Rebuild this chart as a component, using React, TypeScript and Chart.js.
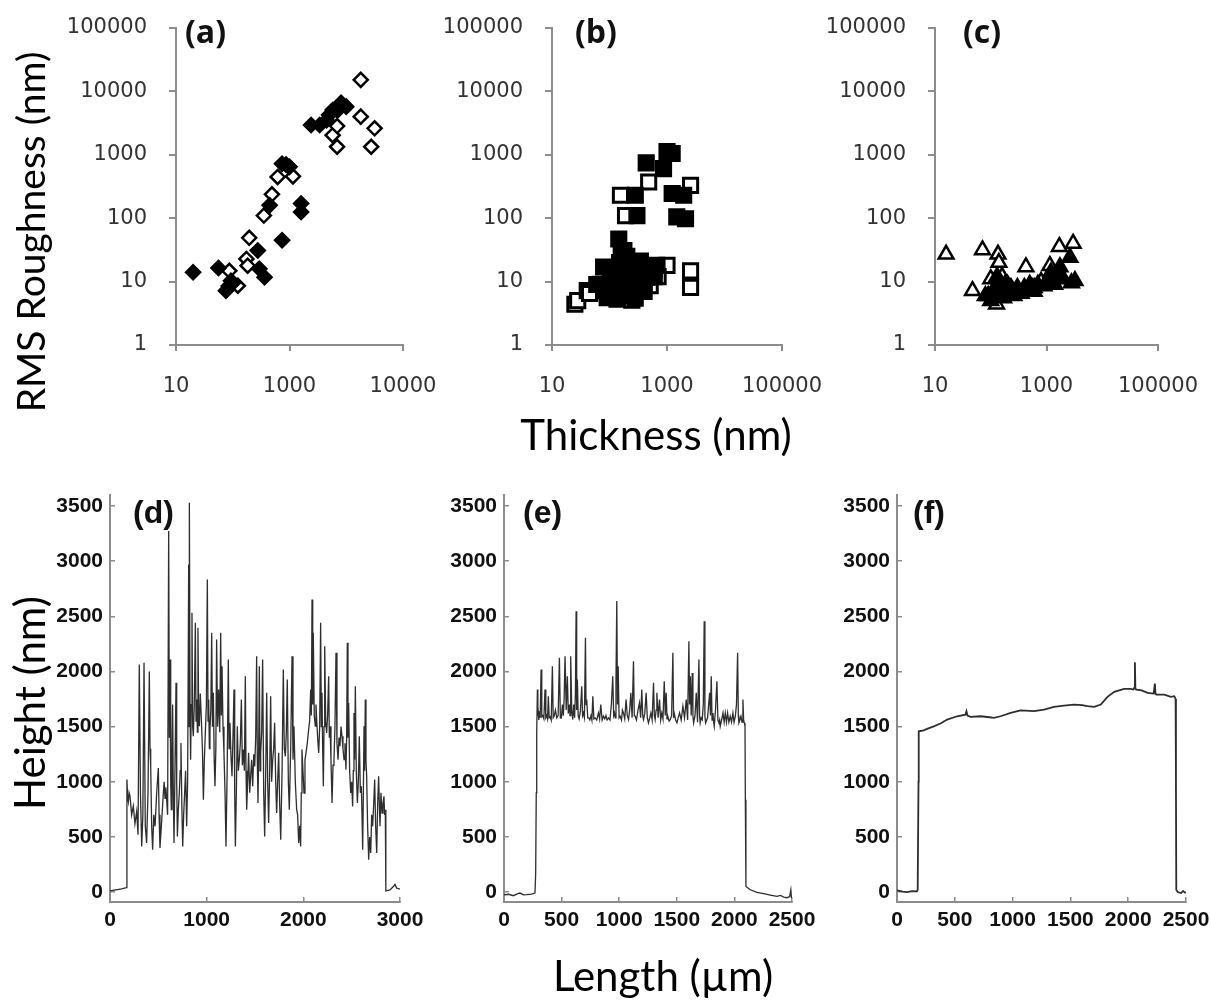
import React, { useEffect, useRef } from 'react';
import { Chart, registerables } from 'chart.js';
Chart.register(...registerables);

// ---------- DATA: top panels (thickness nm, RMS roughness nm) ----------
const A_FILLED: [number, number][] = [
  [20, 14], [56, 16.4], [76, 7.2], [93, 10.3], [85, 8.5], [100, 9.5], [276, 31], [294, 16], [363, 11.7],
  [740, 45], [447, 160], [740, 725], [1000, 645], [870, 700], [1600, 170], [1600, 125], [2400, 2950],
  [3400, 2950], [5000, 4260], [5800, 5100], [8100, 6100], [10000, 5750], [7000, 5000], [4500, 3500],
];
const A_OPEN: [number, number][] = [
  [87, 14.8], [123, 8.6], [174, 22.8], [183, 17.8], [195, 49], [353, 110], [490, 238], [618, 447],
  [1150, 457], [5760, 2040], [6900, 1340], [6900, 2840], [8100, 6600], [18000, 15200], [18000, 4000],
  [27500, 1340], [31600, 2620],
];
const B_FILLED: [number, number][] = [
  [435, 745], [281, 230], [300, 110], [1000, 1120], [1230, 1050], [870, 605], [1230, 245], [1950, 230],
  [1480, 105], [2100, 98], [145, 47], [79, 17], [103, 11.7], [177, 13], [230, 17], [345, 21], [450, 11.7],
  [670, 18], [79, 7.2], [91, 5.6], [135, 5.3], [165, 9.1], [230, 8.1], [120, 14], [150, 20], [200, 25],
  [260, 12], [300, 9], [380, 15], [520, 14], [600, 12], [110, 6.5], [60, 9], [190, 6], [280, 5.5],
  [400, 7], [160, 30], [250, 10], [320, 18],
];
const B_OPEN: [number, number][] = [
  [25, 4.4], [28, 5], [41, 7.2], [45, 6.5], [69, 9.1], [155, 230], [190, 110], [480, 372], [2570, 330],
  [2570, 14.8], [2570, 8.1], [1000, 18], [510, 8.6], [245, 5.1], [178, 31], [200, 20], [130, 12],
  [300, 15], [700, 12], [400, 9], [150, 7], [600, 16],
];
const C_OPEN: [number, number][] = [
  [15.8, 27], [71, 31.6], [135, 27], [427, 17], [1700, 35.6], [3000, 40], [1150, 17.8], [47, 7.2],
  [127, 4.4], [110, 7], [160, 12], [200, 9], [100, 11], [90, 6], [300, 8], [600, 8], [800, 10],
  [1300, 12], [140, 20], [250, 7],
];
const C_FILLED: [number, number][] = [
  [1740, 17], [2630, 24], [3240, 10.3], [1320, 9.1], [1510, 13], [1000, 9], [80, 6], [100, 5], [120, 8],
  [140, 10], [160, 6], [180, 9], [200, 7], [230, 8], [260, 6], [300, 7], [350, 6.5], [400, 8], [450, 7],
  [500, 9], [550, 8], [600, 7], [700, 9], [900, 8.5], [1100, 11], [1200, 14], [1400, 9], [2000, 11],
  [2800, 9.5], [130, 12], [110, 6.5], [170, 5.5],
];

const TOP_Y_TICKS = [1, 10, 100, 1000, 10000, 100000];
const TOP_X_TICKS = [10, 1000, 100000];
const A_X_LABELS = ['10', '1000', '10000'];
const BC_X_LABELS = ['10', '1000', '100000'];

// ---------- DATA: bottom panels (length um, height nm) ----------
const D_PROFILE: [number, number][] = [
  [0, 10], [60, 20], [120, 30], [170, 40], [175, 1020], [182, 870], [190, 820], [198, 900], [207, 870],
  [224, 700], [241, 780], [258, 620], [276, 730], [290, 520], [303, 2063], [315, 900], [328, 414],
  [340, 700], [352, 2078], [365, 600], [379, 445], [393, 900], [407, 2000], [414, 1300], [421, 1140],
  [431, 600], [441, 384], [453, 700], [466, 596], [483, 900], [500, 1125], [508, 700], [517, 400],
  [535, 650], [552, 900], [560, 1000], [569, 850], [578, 950], [586, 840], [596, 700], [607, 3273],
  [614, 1400], [621, 2108], [628, 1000], [634, 747], [641, 1250], [648, 1700], [655, 900], [662, 445],
  [672, 1100], [683, 1897], [690, 1000], [697, 505], [707, 750], [717, 898], [726, 1100], [734, 1352],
  [743, 800], [752, 414], [762, 700], [772, 898], [782, 1100], [793, 596], [803, 1000], [814, 2970],
  [818, 1500], [821, 3530], [828, 1650], [834, 1200], [841, 1700], [848, 2532], [855, 1500], [862, 1413],
  [872, 1700], [883, 2441], [890, 1550], [897, 1745], [904, 1450], [910, 2396], [917, 1600], [924, 1504],
  [934, 1800], [945, 1564], [956, 1300], [966, 838], [976, 1200], [986, 1443], [997, 1700], [1007, 2834],
  [1014, 1550], [1021, 1745], [1028, 1300], [1034, 1474], [1043, 1650], [1052, 2350], [1060, 1500],
  [1069, 1806], [1078, 1200], [1086, 959], [1095, 1300], [1103, 2290], [1113, 1500], [1124, 1836],
  [1135, 1450], [1145, 2350], [1152, 1600], [1159, 2048], [1169, 1500], [1179, 1262], [1190, 900],
  [1200, 414], [1212, 1100], [1224, 2108], [1232, 1300], [1241, 1534], [1251, 1250], [1262, 1050],
  [1272, 1400], [1283, 1836], [1290, 900], [1297, 414], [1307, 900], [1317, 1504], [1328, 1100],
  [1338, 1200], [1348, 1350], [1359, 1745], [1369, 1150], [1379, 1292], [1390, 1100], [1400, 1957],
  [1407, 1100], [1414, 747], [1424, 1000], [1434, 1262], [1445, 900], [1455, 1050], [1465, 1200],
  [1476, 959], [1487, 1250], [1497, 1140], [1507, 1400], [1517, 2139], [1524, 1200], [1531, 808],
  [1538, 1300], [1545, 2048], [1552, 1100], [1559, 1262], [1569, 1450], [1579, 2108], [1590, 900],
  [1600, 505], [1611, 1100], [1621, 1806], [1631, 1000], [1641, 626], [1652, 1100], [1662, 1776],
  [1672, 1000], [1683, 1200], [1693, 1300], [1703, 1534], [1714, 1000], [1724, 717], [1734, 1000],
  [1745, 1262], [1755, 800], [1766, 475], [1780, 1100], [1793, 2017], [1803, 1300], [1814, 1231],
  [1824, 1450], [1834, 1927], [1845, 1000], [1855, 747], [1869, 1300], [1883, 2139], [1893, 1200],
  [1903, 1504], [1917, 1000], [1931, 747], [1941, 700], [1952, 445], [1962, 600], [1972, 414], [1979, 900],
  [1986, 1292], [1996, 1100], [2007, 898], [2017, 1200], [2028, 1262], [2041, 1350], [2055, 1474],
  [2065, 1550], [2076, 1836], [2083, 1600], [2090, 2653], [2097, 1700], [2103, 2350], [2113, 1600],
  [2124, 1504], [2131, 1700], [2138, 1564], [2148, 1400], [2159, 1262], [2169, 1500], [2179, 2441],
  [2186, 1500], [2193, 1806], [2200, 1300], [2207, 959], [2214, 1500], [2221, 2229], [2231, 1550],
  [2241, 1443], [2251, 1600], [2262, 1957], [2269, 1400], [2276, 1504], [2286, 1200], [2297, 808],
  [2307, 1150], [2317, 1200], [2327, 1500], [2338, 2169], [2348, 1350], [2359, 1200], [2369, 1400],
  [2379, 1322], [2390, 1500], [2400, 1413], [2410, 1300], [2421, 1200], [2431, 1350], [2441, 1110],
  [2448, 1400], [2455, 2260], [2462, 1400], [2469, 1715], [2479, 1100], [2490, 898], [2500, 1000],
  [2510, 777], [2517, 1100], [2524, 1624], [2531, 1200], [2538, 1866], [2548, 1100], [2559, 808],
  [2569, 1000], [2579, 1413], [2590, 900], [2600, 959], [2607, 700], [2614, 384], [2621, 900], [2628, 1504],
  [2634, 1100], [2641, 1745], [2648, 1200], [2655, 1050], [2665, 600], [2676, 293], [2686, 500],
  [2697, 354], [2707, 700], [2717, 596], [2728, 800], [2738, 1020], [2748, 600], [2759, 354], [2769, 800],
  [2779, 1050], [2786, 800], [2793, 596], [2803, 900], [2814, 717], [2824, 800], [2834, 868], [2841, 700],
  [2848, 747], [2852, 30], [2855, 10], [2897, 20], [2931, 50], [2948, 70], [2966, 36], [3000, 27],
];
const E_PROFILE: [number, number][] = [
  [0, -20], [9, -24], [40, -20], [81, -33], [120, -15], [139, -9], [170, -25], [197, -24], [240, -18],
  [269, -9], [275, 172], [280, 900], [284, 1443], [290, 1836], [294, 1600], [298, 1624], [302, 1560],
  [307, 1640], [314, 1580], [322, 2018], [328, 1590], [336, 1600], [346, 1570], [356, 1836], [363, 1580],
  [371, 1600], [378, 1570], [385, 1776], [392, 1580], [400, 1590], [410, 1560], [420, 2048], [427, 1580],
  [435, 1594], [446, 1650], [458, 1579], [470, 1600], [481, 2124], [489, 1580], [498, 1579], [507, 1700],
  [515, 1600], [522, 1750], [530, 2139], [540, 1650], [550, 1957], [558, 1620], [568, 1700], [573, 1600],
  [579, 2139], [588, 1650], [597, 1564], [605, 1700], [613, 1580], [620, 1800], [626, 2547], [631, 1650],
  [637, 1927], [644, 1600], [652, 1570], [663, 1640], [675, 1866], [682, 1600], [689, 1624], [698, 1580],
  [707, 2305], [712, 1700], [718, 1745], [727, 1580], [736, 1579], [745, 1560], [755, 1600], [763, 1560],
  [771, 1776], [780, 1570], [791, 1579], [805, 1560], [820, 1624], [830, 1570], [840, 1700], [852, 1560],
  [863, 1594], [875, 1570], [885, 1600], [895, 1560], [907, 1579], [920, 1560], [932, 1700], [944, 1957],
  [952, 1600], [959, 1624], [966, 1580], [972, 1900], [979, 2638], [985, 1700], [991, 2048], [999, 1580],
  [1008, 1594], [1020, 1560], [1028, 1650], [1037, 1624], [1048, 1570], [1060, 1745], [1070, 1600],
  [1081, 1564], [1091, 1650], [1101, 1806], [1112, 1580], [1124, 2093], [1131, 1600], [1139, 1594],
  [1150, 1560], [1163, 1650], [1176, 1715], [1186, 1580], [1196, 1836], [1204, 1600], [1211, 1564],
  [1222, 1620], [1234, 1806], [1244, 1580], [1254, 1534], [1265, 1580], [1275, 1624], [1286, 1560],
  [1298, 1897], [1305, 1600], [1312, 1564], [1320, 1650], [1327, 1806], [1338, 1580], [1350, 1745],
  [1360, 1560], [1370, 1624], [1380, 1570], [1391, 1912], [1400, 1600], [1408, 1806], [1415, 1570],
  [1422, 1594], [1433, 1550], [1443, 1564], [1455, 1600], [1466, 2169], [1472, 1580], [1477, 1624],
  [1490, 1560], [1501, 1534], [1512, 1580], [1524, 1624], [1538, 1560], [1553, 1685], [1567, 1580],
  [1582, 1745], [1594, 1560], [1605, 2275], [1611, 1700], [1617, 1957], [1625, 1600], [1634, 1987],
  [1640, 1600], [1646, 1534], [1658, 1600], [1669, 1806], [1680, 1540], [1692, 2108], [1698, 1600],
  [1703, 1534], [1712, 1580], [1721, 1564], [1730, 1700], [1738, 2456], [1744, 1600], [1750, 1534],
  [1767, 1580], [1785, 1806], [1792, 1600], [1799, 1957], [1806, 1560], [1814, 1624], [1820, 1540],
  [1825, 1503], [1836, 1650], [1848, 1912], [1857, 1560], [1866, 1534], [1872, 1560], [1877, 1503],
  [1889, 1560], [1901, 1624], [1911, 1540], [1921, 1624], [1931, 1540], [1941, 1624], [1952, 1540],
  [1964, 1594], [1975, 1540], [1987, 1624], [1997, 1540], [2008, 1594], [2018, 1700], [2028, 2169],
  [2034, 1600], [2039, 1534], [2048, 1560], [2057, 1594], [2066, 1540], [2074, 1745], [2080, 1560],
  [2086, 1534], [2092, 1503], [2095, 838], [2100, 51], [2138, 21], [2196, -3], [2254, -15], [2312, -27],
  [2370, -39], [2400, -30], [2428, -45], [2457, -51], [2480, -40], [2490, 20], [2495, -50], [2500, -54],
];
const F_PROFILE: [number, number][] = [
  [0, 15], [50, 5], [87, 0], [130, 8], [173, 6], [179, 20], [186, 1000], [188, 1458], [231, 1467],
  [260, 1480], [318, 1503], [380, 1530], [434, 1564], [520, 1594], [592, 1609], [601, 1640], [610, 1600],
  [636, 1588], [723, 1594], [800, 1585], [838, 1579], [896, 1594], [983, 1624], [1069, 1648], [1185, 1640],
  [1272, 1655], [1358, 1679], [1445, 1691], [1532, 1700], [1600, 1695], [1647, 1685], [1705, 1679],
  [1763, 1700], [1821, 1770], [1879, 1815], [1965, 1842], [2023, 1842], [2046, 1836], [2052, 1850],
  [2058, 2084], [2062, 1850], [2069, 1836], [2110, 1830], [2168, 1806], [2220, 1800], [2231, 1891],
  [2236, 1800], [2243, 1791], [2312, 1791], [2370, 1770], [2399, 1776], [2410, 1751], [2413, 1000],
  [2416, 21], [2428, 0], [2457, -9], [2475, 10], [2490, -5], [2500, -3],
];

const BOTTOM_Y_TICKS = [0, 500, 1000, 1500, 2000, 2500, 3000, 3500];
const D_X_TICKS = [0, 1000, 2000, 3000];
const EF_X_TICKS = [0, 500, 1000, 1500, 2000, 2500];

// ---------- styling ----------
const AXIS_GRAY = '#8c8c8c';
const TOP_TICK_FONT = { family: "'DejaVu Sans', sans-serif", size: 21 };
const BOTTOM_TICK_FONT = { family: "'Liberation Sans Narrow', 'Liberation Sans', Arial, sans-serif", size: 21, weight: 'bold' as const };

type Geom = { left: number; top: number; width: number; height: number; W: number; R: number; T: number; H: number };

const toPts = (arr: [number, number][]) => arr.map(([x, y]) => ({ x, y }));

function markerSet(data: [number, number][], style: string, filled: boolean, radius: number, bw: number) {
  return {
    data: toPts(data),
    pointStyle: style,
    pointRadius: radius,
    pointBorderWidth: bw,
    pointBackgroundColor: filled ? '#000' : '#fff',
    pointBorderColor: '#000',
    borderColor: '#000',
    backgroundColor: filled ? '#000' : '#fff',
    showLine: false,
  };
}

function topConfig(datasets: any[], xLabels: string[], g: Geom) {
  return {
    type: 'scatter',
    data: { datasets },
    options: {
      responsive: false,
      animation: false,
      devicePixelRatio: 1,
      events: [],
      layout: { padding: { left: 0, right: g.R, top: g.T, bottom: 0 } },
      plugins: { legend: { display: false }, tooltip: { enabled: false } },
      scales: {
        x: {
          type: 'logarithmic',
          min: 10,
          max: 100000,
          afterBuildTicks: (s: any) => { s.ticks = TOP_X_TICKS.map((v) => ({ value: v })); },
          afterFit: (s: any) => { s.height = g.H; s.paddingLeft = 0; s.paddingRight = 0; },
          ticks: { callback: (_v: any, i: number) => xLabels[i], font: TOP_TICK_FONT, color: '#333', padding: 23, maxRotation: 0, autoSkip: false },
          grid: { display: true, drawOnChartArea: false, drawTicks: true, tickLength: 6, color: AXIS_GRAY, lineWidth: 2 },
          border: { display: true, color: AXIS_GRAY, width: 2 },
        },
        y: {
          type: 'logarithmic',
          min: 1,
          max: 100000,
          afterBuildTicks: (s: any) => { s.ticks = TOP_Y_TICKS.map((v) => ({ value: v })); },
          afterFit: (s: any) => { s.width = g.W; s.paddingTop = 0; s.paddingBottom = 0; },
          ticks: { callback: (v: any) => String(v), font: TOP_TICK_FONT, color: '#333', padding: 22, autoSkip: false },
          grid: { display: true, drawOnChartArea: false, drawTicks: true, tickLength: 7, color: AXIS_GRAY, lineWidth: 2 },
          border: { display: true, color: AXIS_GRAY, width: 2 },
        },
      },
    },
  };
}

function bottomConfig(profile: [number, number][], xMax: number, xTicks: number[], lineWidth: number, g: Geom) {
  return {
    type: 'scatter',
    data: {
      datasets: [{
        data: toPts(profile),
        showLine: true,
        borderColor: '#2e2e2e',
        borderWidth: lineWidth,
        pointRadius: 0,
        fill: false,
        tension: 0,
      }],
    },
    options: {
      responsive: false,
      animation: false,
      devicePixelRatio: 1,
      events: [],
      layout: { padding: { left: 0, right: g.R, top: g.T, bottom: 0 } },
      plugins: { legend: { display: false }, tooltip: { enabled: false } },
      scales: {
        x: {
          type: 'linear',
          min: 0,
          max: xMax,
          afterBuildTicks: (s: any) => { s.ticks = xTicks.map((v) => ({ value: v })); },
          afterFit: (s: any) => { s.height = g.H; s.paddingLeft = 0; s.paddingRight = 0; },
          ticks: { callback: (v: any) => String(v), font: BOTTOM_TICK_FONT, color: '#111', padding: 11, maxRotation: 0, autoSkip: false },
          grid: { display: true, drawOnChartArea: false, drawTicks: true, tickLength: -5, color: AXIS_GRAY, lineWidth: 1.5 },
          border: { display: true, color: AXIS_GRAY, width: 2 },
        },
        y: {
          type: 'linear',
          min: -90,
          max: 3600,
          afterBuildTicks: (s: any) => { s.ticks = BOTTOM_Y_TICKS.map((v) => ({ value: v })); },
          afterFit: (s: any) => { s.width = g.W; s.paddingTop = 0; s.paddingBottom = 0; },
          ticks: { callback: (v: any) => String(v), font: BOTTOM_TICK_FONT, color: '#111', padding: 12, autoSkip: false },
          grid: { display: true, drawOnChartArea: false, drawTicks: true, tickLength: -5, color: AXIS_GRAY, lineWidth: 1.5 },
          border: { display: true, color: AXIS_GRAY, width: 2 },
        },
      },
    },
  };
}

function ChartBox({ g, make }: { g: Geom; make: () => any }) {
  const ref = useRef<HTMLCanvasElement | null>(null);
  useEffect(() => {
    const chart = new Chart(ref.current as HTMLCanvasElement, make());
    return () => chart.destroy();
  }, []);
  return (
    <div style={{ position: 'absolute', left: g.left, top: g.top, width: g.width, height: g.height }}>
      <canvas ref={ref} width={g.width} height={g.height} style={{ display: 'block' }} />
    </div>
  );
}

const GA: Geom = { left: 40, top: 0, width: 440, height: 410, W: 136, R: 77, T: 28, H: 65 };
const GB: Geom = { left: 420, top: 0, width: 460, height: 410, W: 132, R: 98, T: 28, H: 65 };
const GC: Geom = { left: 815, top: 0, width: 396, height: 410, W: 120, R: 53, T: 28, H: 65 };
const GD: Geom = { left: 40, top: 470, width: 420, height: 480, W: 70, R: 60, T: 25, H: 48 };
const GE: Geom = { left: 430, top: 470, width: 420, height: 480, W: 74, R: 58, T: 25, H: 48 };
const GF: Geom = { left: 820, top: 470, width: 391, height: 480, W: 77, R: 25, T: 25, H: 48 };

const topLabel = (text: string, left: number, top: number) => (
  <div style={{ position: 'absolute', left, top, fontFamily: "'Open Sans', sans-serif", fontWeight: 700, fontSize: 32, lineHeight: '36px', color: '#111' }}>{text}</div>
);
const botLabel = (text: string, left: number, top: number) => (
  <div style={{ position: 'absolute', left, top, fontFamily: "'Liberation Sans', Arial, sans-serif", fontWeight: 700, fontSize: 32, lineHeight: '34px', color: '#111' }}>{text}</div>
);
const titleStyle = { position: 'absolute' as const, fontFamily: "Lato, sans-serif", color: '#000', whiteSpace: 'nowrap' as const, lineHeight: '48px' };

export default function App() {
  return (
    <div style={{ position: 'fixed', left: 0, top: 0, width: 1211, height: 1001, background: '#fff', overflow: 'hidden' }}>
      <ChartBox g={GA} make={() => topConfig([
        markerSet(A_FILLED, 'rectRot', true, 7, 2.5),
        markerSet(A_OPEN, 'rectRot', false, 7, 2.5),
      ], A_X_LABELS, GA)} />
      <ChartBox g={GB} make={() => topConfig([
        markerSet(B_FILLED, 'rect', true, 10, 3),
        markerSet(B_OPEN, 'rect', false, 10, 3),
      ], BC_X_LABELS, GB)} />
      <ChartBox g={GC} make={() => topConfig([
        markerSet(C_FILLED, 'triangle', true, 8.5, 2.5),
        markerSet(C_OPEN, 'triangle', false, 8.5, 2.5),
      ], BC_X_LABELS, GC)} />
      <ChartBox g={GD} make={() => bottomConfig(D_PROFILE, 3000, D_X_TICKS, 1.3, GD)} />
      <ChartBox g={GE} make={() => bottomConfig(E_PROFILE, 2500, EF_X_TICKS, 1.3, GE)} />
      <ChartBox g={GF} make={() => bottomConfig(F_PROFILE, 2500, EF_X_TICKS, 1.8, GF)} />

      {topLabel('(a)', 185, 13)}
      {topLabel('(b)', 575, 13)}
      {topLabel('(c)', 963, 13)}
      {botLabel('(d)', 133, 495)}
      {botLabel('(e)', 523, 495)}
      {botLabel('(f)', 913, 495)}

      <div style={{ ...titleStyle, fontSize: 39, left: 30, top: 232, transform: 'translate(-50%, -50%) rotate(-90deg)' }}>RMS Roughness (nm)</div>
      <div style={{ ...titleStyle, fontSize: 42, left: 29, top: 703, transform: 'translate(-50%, -50%) rotate(-90deg)' }}>Height (nm)</div>
      <div style={{ ...titleStyle, fontSize: 42, left: 656, top: 434, transform: 'translate(-50%, -50%)' }}>Thickness (nm)</div>
      <div style={{ ...titleStyle, fontSize: 42, left: 663, top: 975, transform: 'translate(-50%, -50%)' }}>Length (µm)</div>
    </div>
  );
}
